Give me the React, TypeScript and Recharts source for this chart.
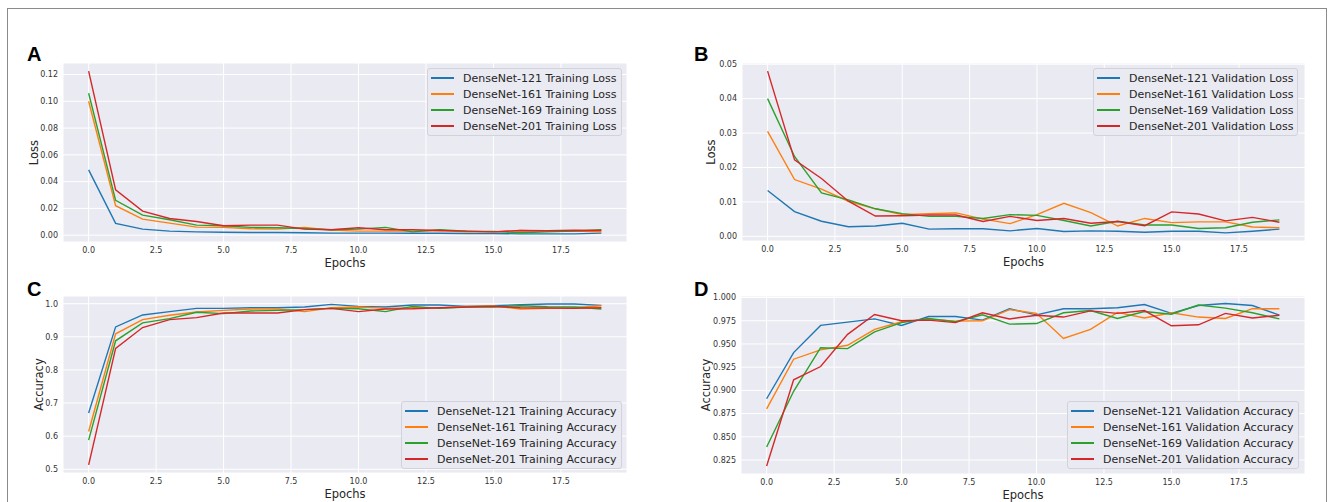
import React from "react";
import { CartesianGrid, Legend, Line, LineChart, XAxis, YAxis } from "recharts";

const EPOCHS = [0, 1, 2, 3, 4, 5, 6, 7, 8, 9, 10, 11, 12, 13, 14, 15, 16, 17, 18, 19];
const X_TICKS = [0, 2.5, 5, 7.5, 10, 12.5, 15, 17.5];

const MODELS = ["DenseNet-121", "DenseNet-161", "DenseNet-169", "DenseNet-201"];
const COLORS = ["#1f77b4", "#ff7f0e", "#2ca02c", "#d62728"];

// A: training loss
const TRAIN_LOSS_121 = [0.0488, 0.0088, 0.0045, 0.003, 0.0025, 0.0022, 0.002, 0.002, 0.0018, 0.0015, 0.0015, 0.0015, 0.0014, 0.0014, 0.0013, 0.0013, 0.001, 0.001, 0.001, 0.0015];
const TRAIN_LOSS_161 = [0.1, 0.022, 0.012, 0.009, 0.006, 0.0058, 0.0048, 0.0045, 0.0058, 0.0038, 0.003, 0.003, 0.003, 0.0035, 0.0025, 0.0025, 0.0035, 0.003, 0.003, 0.0025];
const TRAIN_LOSS_169 = [0.106, 0.026, 0.015, 0.0115, 0.0075, 0.007, 0.0058, 0.0055, 0.005, 0.004, 0.0045, 0.0058, 0.0025, 0.004, 0.003, 0.0028, 0.0018, 0.0025, 0.003, 0.004];
const TRAIN_LOSS_201 = [0.1225, 0.0338, 0.018, 0.0125, 0.0102, 0.007, 0.0075, 0.0075, 0.0045, 0.004, 0.0055, 0.004, 0.004, 0.0035, 0.003, 0.0025, 0.0035, 0.0033, 0.0037, 0.0035];
const TRAIN_LOSS_TICKS = [0, 0.02, 0.04, 0.06, 0.08, 0.1, 0.12];

// B: validation loss
const VAL_LOSS_121 = [0.0133, 0.0072, 0.0044, 0.0028, 0.003, 0.0038, 0.0021, 0.0022, 0.0022, 0.0016, 0.0023, 0.0014, 0.0016, 0.0015, 0.0012, 0.0015, 0.0015, 0.001, 0.0015, 0.0021];
const VAL_LOSS_161 = [0.0305, 0.0165, 0.0137, 0.0102, 0.008, 0.0063, 0.0066, 0.0068, 0.005, 0.0037, 0.0063, 0.0096, 0.0069, 0.003, 0.0052, 0.004, 0.0042, 0.0042, 0.0027, 0.0025];
const VAL_LOSS_169 = [0.04, 0.0232, 0.0126, 0.0106, 0.008, 0.0066, 0.0058, 0.0058, 0.0052, 0.0063, 0.0061, 0.0046, 0.003, 0.0044, 0.0033, 0.0033, 0.0023, 0.0025, 0.0041, 0.0048];
const VAL_LOSS_201 = [0.048, 0.0222, 0.0168, 0.0102, 0.0059, 0.006, 0.0062, 0.0062, 0.0043, 0.0058, 0.0046, 0.0052, 0.0038, 0.0043, 0.0031, 0.0071, 0.0065, 0.0045, 0.0055, 0.0041];
const VAL_LOSS_TICKS = [0, 0.01, 0.02, 0.03, 0.04, 0.05];

// C: training accuracy
const TRAIN_ACC_121 = [0.67, 0.93, 0.966, 0.976, 0.986, 0.986, 0.988, 0.988, 0.99, 0.998, 0.992, 0.99, 0.996, 0.996, 0.992, 0.994, 0.997, 0.999, 0.999, 0.995];
const TRAIN_ACC_161 = [0.614, 0.909, 0.952, 0.965, 0.975, 0.98, 0.984, 0.984, 0.976, 0.988, 0.99, 0.986, 0.988, 0.987, 0.992, 0.993, 0.984, 0.986, 0.988, 0.994];
const TRAIN_ACC_169 = [0.588, 0.888, 0.942, 0.955, 0.974, 0.97, 0.978, 0.98, 0.982, 0.986, 0.985, 0.976, 0.992, 0.986, 0.99, 0.99, 0.994, 0.991, 0.99, 0.984];
const TRAIN_ACC_201 = [0.513, 0.865, 0.928, 0.952, 0.958, 0.972, 0.972, 0.972, 0.982, 0.986, 0.976, 0.984, 0.985, 0.988, 0.99, 0.992, 0.988, 0.987, 0.986, 0.988];
const TRAIN_ACC_TICKS = [0.5, 0.6, 0.7, 0.8, 0.9, 1.0];

// D: validation accuracy
const VAL_ACC_121 = [0.891, 0.9407, 0.97, 0.9736, 0.977, 0.97, 0.9796, 0.9796, 0.9757, 0.9879, 0.9814, 0.9879, 0.988, 0.989, 0.9925, 0.983, 0.9914, 0.9936, 0.9914, 0.981];
const VAL_ACC_161 = [0.88, 0.9336, 0.9436, 0.9486, 0.9657, 0.974, 0.9768, 0.9746, 0.975, 0.987, 0.983, 0.956, 0.9657, 0.984, 0.978, 0.9836, 0.979, 0.9775, 0.988, 0.988];
const VAL_ACC_169 = [0.839, 0.899, 0.946, 0.945, 0.963, 0.973, 0.9775, 0.974, 0.9814, 0.9714, 0.972, 0.9836, 0.986, 0.9775, 0.985, 0.982, 0.992, 0.9886, 0.9836, 0.977];
const VAL_ACC_201 = [0.8186, 0.9114, 0.9257, 0.9604, 0.9818, 0.975, 0.9757, 0.973, 0.9836, 0.977, 0.981, 0.979, 0.9857, 0.983, 0.986, 0.9696, 0.9707, 0.983, 0.978, 0.981];
const VAL_ACC_TICKS = [0.825, 0.85, 0.875, 0.9, 0.925, 0.95, 0.975, 1.0];

const FONT = "'DejaVu Sans', sans-serif";
const TICK = { fontSize: 8, fill: "#333", fontFamily: FONT };

type Box = { x0: number; x1: number; y0: number; y1: number };

const colorFor = (name: string) => {
  const i = MODELS.findIndex((m) => name.startsWith(m));
  return i >= 0 ? COLORS[i] : "#000";
};

function LegendBox({ payload }: any) {
  return (
    <div
      style={{
        border: "1px solid #d2d2da",
        borderRadius: 3,
        background: "#eaeaf2",
        padding: "1px 4px 1px 3px",
        fontFamily: FONT,
        fontSize: 11,
        color: "#262626",
        whiteSpace: "nowrap",
      }}
    >
      {(payload ?? []).map((p: any) => (
        <div key={p.value} style={{ display: "flex", alignItems: "center", height: 16 }}>
          <span style={{ display: "inline-block", width: 23, height: 2, background: colorFor(String(p.value)), marginRight: 9 }} />
          <span>{p.value}</span>
        </div>
      ))}
    </div>
  );
}

function Panel({
  box,
  series,
  suffix,
  yTicks,
  yDomain,
  decimals,
  yLabel,
  yLabelX,
  legendLeft,
  legendTop,
}: {
  box: Box;
  series: number[][];
  suffix: string;
  yTicks: number[];
  yDomain: [number, number];
  decimals: number;
  yLabel: string;
  yLabelX: number;
  legendLeft: number;
  legendTop: number;
}) {
  const AXW = 63;
  const TOP = 25;
  const XAH = 40;
  const left = box.x0 - AXW;
  const top = box.y0 - TOP;
  const width = box.x1 - box.x0 + AXW + 20;
  const height = box.y1 - box.y0 + TOP + XAH;
  const data = EPOCHS.map((e, i) => {
    const row: Record<string, number> = { epoch: e };
    series.forEach((s, k) => (row[`s${k}`] = s[i]));
    return row;
  });
  return (
    <div style={{ position: "absolute", left, top, width, height }}>
      <LineChart width={width} height={height} data={data} margin={{ top: TOP, right: 20, left: 0, bottom: 0 }}>
        <CartesianGrid stroke="#ffffff" strokeWidth={1} fill="#eaeaf2" fillOpacity={1} />
        <XAxis
          type="number"
          dataKey="epoch"
          domain={[-0.95, 19.95]}
          ticks={X_TICKS}
          allowDataOverflow
          tickFormatter={(v: number) => v.toFixed(1)}
          tick={TICK}
          axisLine={false}
          tickLine={false}
          tickSize={0}
          tickMargin={5}
          height={XAH}
          label={{
            value: "Epochs",
            position: "insideBottom",
            offset: 15,
            style: { fontSize: 11.5, fill: "#262626", fontFamily: FONT },
          }}
        />
        <YAxis
          type="number"
          domain={yDomain}
          ticks={yTicks}
          allowDataOverflow
          tickFormatter={(v: number) => v.toFixed(decimals)}
          tick={TICK}
          axisLine={false}
          tickLine={false}
          tickSize={0}
          tickMargin={5}
          width={AXW}
          label={{
            value: yLabel,
            angle: -90,
            position: "insideLeft",
            offset: yLabelX - left,
            style: { fontSize: 11.5, fill: "#262626", fontFamily: FONT, textAnchor: "middle" },
          }}
        />
        {series.map((_, k) => (
          <Line
            key={k}
            type="linear"
            dataKey={`s${k}`}
            name={`${MODELS[k]} ${suffix}`}
            stroke={COLORS[k]}
            strokeWidth={1.4}
            dot={false}
            activeDot={false}
            isAnimationActive={false}
          />
        ))}
        <Legend
          layout="vertical"
          align="center"
          verticalAlign="middle"
          content={<LegendBox />}
          wrapperStyle={{ left: legendLeft - left, top: legendTop - top, width: "auto", right: "auto", bottom: "auto" }}
        />
      </LineChart>
    </div>
  );
}

function Letter({ x, y, ch }: { x: number; y: number; ch: string }) {
  return (
    <text x={x} y={y} fontFamily="'Liberation Sans', Arial, sans-serif" fontWeight="bold" fontSize={20} fill="#000">
      {ch}
    </text>
  );
}

export default function App() {
  return (
    <div style={{ position: "absolute", left: 0, top: 0, width: 1330, height: 502, overflow: "hidden", background: "#fff" }}>
      <div
        style={{
          position: "absolute",
          left: 7,
          top: 8,
          width: 1320,
          height: 520,
          border: "1.5px solid #8a8a8a",
          boxSizing: "border-box",
        }}
      />
      <svg width={1330} height={502} style={{ position: "absolute", left: 0, top: 0 }}>
        <Letter x={27} y={61} ch="A" />
        <Letter x={694} y={61} ch="B" />
        <Letter x={27} y={296} ch="C" />
        <Letter x={694} y={296} ch="D" />
      </svg>
      <Panel
        box={{ x0: 63, x1: 627, y0: 63, y1: 242 }}
        series={[TRAIN_LOSS_121, TRAIN_LOSS_161, TRAIN_LOSS_169, TRAIN_LOSS_201]}
        suffix="Training Loss"
        yTicks={TRAIN_LOSS_TICKS}
        yDomain={[-0.0051, 0.1286]}
        decimals={2}
        yLabel="Loss"
        yLabelX={34}
        legendLeft={427}
        legendTop={68}
      />
      <Panel
        box={{ x0: 742, x1: 1305, y0: 63, y1: 241 }}
        series={[VAL_LOSS_121, VAL_LOSS_161, VAL_LOSS_169, VAL_LOSS_201]}
        suffix="Validation Loss"
        yTicks={VAL_LOSS_TICKS}
        yDomain={[-0.00135, 0.05035]}
        decimals={2}
        yLabel="Loss"
        yLabelX={711}
        legendLeft={1093}
        legendTop={68}
      />
      <Panel
        box={{ x0: 63, x1: 627, y0: 296, y1: 473 }}
        series={[TRAIN_ACC_121, TRAIN_ACC_161, TRAIN_ACC_169, TRAIN_ACC_201]}
        suffix="Training Accuracy"
        yTicks={TRAIN_ACC_TICKS}
        yDomain={[0.4887, 1.0233]}
        decimals={1}
        yLabel="Accuracy"
        yLabelX={38.5}
        legendLeft={401}
        legendTop={401}
      />
      <Panel
        box={{ x0: 741, x1: 1305, y0: 296, y1: 474 }}
        series={[VAL_ACC_121, VAL_ACC_161, VAL_ACC_169, VAL_ACC_201]}
        suffix="Validation Accuracy"
        yTicks={VAL_ACC_TICKS}
        yDomain={[0.8099, 1.0017]}
        decimals={3}
        yLabel="Accuracy"
        yLabelX={706}
        legendLeft={1067}
        legendTop={401}
      />
    </div>
  );
}
